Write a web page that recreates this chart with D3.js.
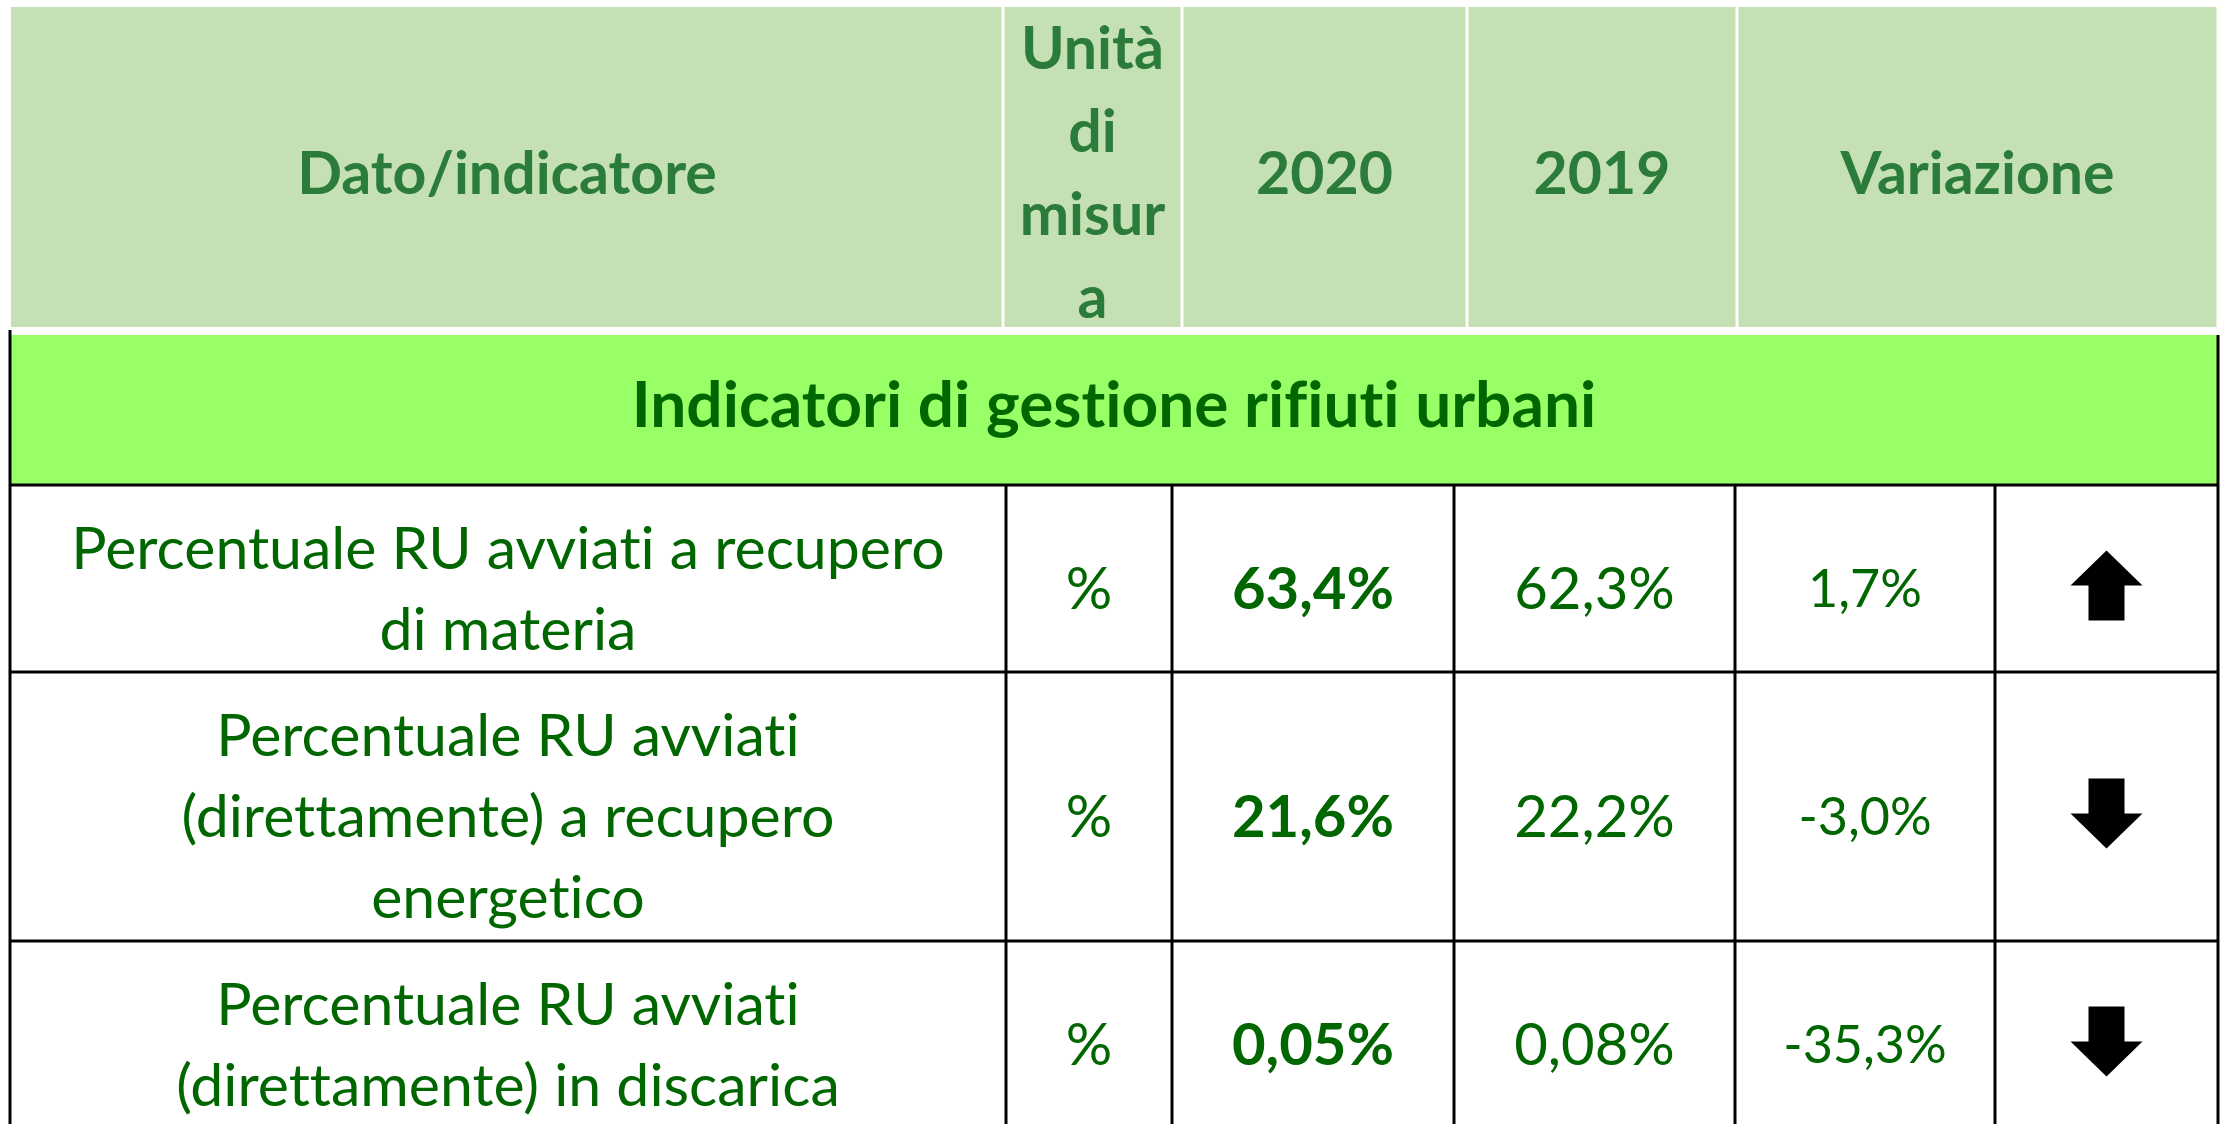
<!DOCTYPE html>
<html>
<head>
<meta charset="utf-8">
<script src="https://cdn.jsdelivr.net/npm/d3@7"></script>
<style>
  body { margin: 0; background: #fff; }
  svg { display: block; }
  text { font-variant-ligatures: none; font-feature-settings: "liga" 0; }
</style>
</head>
<body>
<svg id="chart" width="2229" height="1124"></svg>
<script>
// table contents
var headerLines = [["Dato/indicatore"], ["Unità", "di", "misur", "a"], ["2020"], ["2019"], ["Variazione"]];
var sectionTitle = "Indicatori di gestione rifiuti urbani";
var indicatorLines = [
    ["Percentuale RU avviati a recupero", "di materia"],
    ["Percentuale RU avviati", "(direttamente) a recupero", "energetico"],
    ["Percentuale RU avviati", "(direttamente) in discarica"]
];
var units = ["%", "%", "%"];
var values2020 = ["63,4%", "21,6%", "0,05%"];
var values2019 = ["62,3%", "22,2%", "0,08%"];
var variation = ["1,7%", "-3,0%", "-35,3%"];
var trend = ["up", "down", "down"];

// layout
var W = 2229, H = 1124;
var headEdges = [11, 1003, 1182, 1467, 1737, 2218];
var bodyEdges = [10, 1006, 1172, 1454, 1735, 1995, 2218];
var rowEdges = [485, 672, 941, 1128];
var headTop = 7, headBottom = 327, bandTop = 335;
var font = "Lato, 'Open Sans', sans-serif";
var headColor = "#2b7b3a", bodyColor = "#006600";

var svg = d3.select("#chart");
var cols = d3.range(bodyEdges.length - 1);
var rows = d3.range(indicatorLines.length);

var xHead = d3.scaleOrdinal().domain(d3.range(headerLines.length)).range(headEdges.slice(0, -1));
var xCol = d3.scaleOrdinal().domain(cols).range(bodyEdges.slice(0, -1));
var colW = function(i) { return bodyEdges[i + 1] - bodyEdges[i]; };
var yRow = d3.scaleOrdinal().domain(rows).range(rowEdges.slice(0, -1));
var rowH = function(i) { return rowEdges[i + 1] - rowEdges[i]; };

svg.append("rect").attr("width", W).attr("height", H).attr("fill", "#fff");

// header cells, separated by thin white gaps
var head = svg.append("g").selectAll("g").data(headerLines).join("g");
head.append("rect")
    .attr("x", function(d, i) { return xHead(i) + (i ? 1.5 : 0); })
    .attr("y", headTop)
    .attr("width", function(d, i) { return headEdges[i + 1] - xHead(i) - (i ? 1.5 : 0) - 1.5; })
    .attr("height", headBottom - headTop)
    .attr("fill", "#c5e0b4");
head.each(function(lines, i) {
    var cx = (headEdges[i] + headEdges[i + 1]) / 2;
    var cy = (headTop + headBottom) / 2 + 4;
    var lh = 83;
    d3.select(this).selectAll("text").data(lines).join("text")
        .attr("x", cx)
        .attr("y", function(d, k) { return cy + (k - (lines.length - 1) / 2) * lh; })
        .attr("text-anchor", "middle")
        .attr("dominant-baseline", "central")
        .attr("font-family", font)
        .attr("font-weight", "bold")
        .attr("font-size", 59)
        .attr("fill", headColor)
        .text(function(d) { return d; });
});

// section band
svg.append("rect")
    .attr("x", bodyEdges[0]).attr("y", bandTop)
    .attr("width", bodyEdges[bodyEdges.length - 1] - bodyEdges[0])
    .attr("height", rowEdges[0] - bandTop)
    .attr("fill", "#99ff66");
svg.append("text")
    .attr("x", (bodyEdges[0] + bodyEdges[bodyEdges.length - 1]) / 2)
    .attr("y", (bandTop + rowEdges[0]) / 2 - 8)
    .attr("text-anchor", "middle")
    .attr("dominant-baseline", "central")
    .attr("font-family", font)
    .attr("font-weight", "bold")
    .attr("font-size", 64)
    .attr("fill", bodyColor)
    .text(sectionTitle);

// body cells
var tableRows = rows.map(function(i) {
    return [indicatorLines[i], [units[i]], [values2020[i]], [values2019[i]], [variation[i]]];
});
var cellStyle = [
    { size: 59, weight: "normal" },
    { size: 58, weight: "normal" },
    { size: 58, weight: "bold" },
    { size: 58, weight: "normal" },
    { size: 52, weight: "normal" }
];

var body = svg.append("g");
tableRows.forEach(function(cells, r) {
    var cy = yRow(r) + rowH(r) / 2 + 8;
    cells.forEach(function(lines, c) {
        var cx = xCol(c) + colW(c) / 2;
        var lh = 81;
        body.append("g").selectAll("text").data(lines).join("text")
            .attr("x", cx)
            .attr("y", function(d, k) { return cy + (k - (lines.length - 1) / 2) * lh; })
            .attr("text-anchor", "middle")
            .attr("dominant-baseline", "central")
            .attr("font-family", font)
            .attr("font-weight", cellStyle[c].weight)
            .attr("font-size", cellStyle[c].size)
            .attr("fill", bodyColor)
            .text(function(d) { return d; });
    });
});

// trend arrows (block arrows)
var arrowW = 72, arrowH = 70;
function arrowPath(dir) {
    var hw = arrowW / 2, sw = arrowW / 4, hh = arrowH / 2;
    var pts = [[0, -hh], [hw, 0], [sw, 0], [sw, hh], [-sw, hh], [-sw, 0], [-hw, 0]];
    if (dir === "down") pts = pts.map(function(p) { return [p[0], -p[1]]; });
    return d3.line()(pts) + "Z";
}
svg.append("g").selectAll("path").data(trend).join("path")
    .attr("transform", function(d, i) {
        return "translate(" + (xCol(5) + colW(5) / 2) + "," + (yRow(i) + rowH(i) / 2 + 7) + ")";
    })
    .attr("d", function(d) { return arrowPath(d); })
    .attr("fill", "#000");

// grid lines
var grid = svg.append("g").attr("stroke", "#000").attr("stroke-width", 3);
grid.selectAll("line.h").data(rowEdges.slice(0, -1)).join("line")
    .attr("x1", bodyEdges[0]).attr("x2", bodyEdges[bodyEdges.length - 1])
    .attr("y1", function(d) { return d; }).attr("y2", function(d) { return d; });
grid.selectAll("line.v").data(bodyEdges).join("line")
    .attr("x1", function(d) { return d; }).attr("x2", function(d) { return d; })
    .attr("y1", function(d, i) { return i === 0 ? 330 : (i === bodyEdges.length - 1 ? bandTop : rowEdges[0]); })
    .attr("y2", H);
</script>
</body>
</html>
